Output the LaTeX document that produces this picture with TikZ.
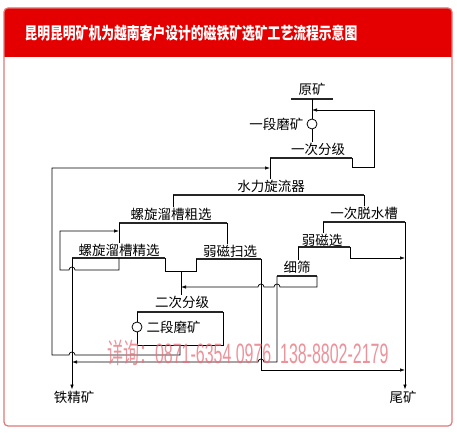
\documentclass[tikz,border=0pt]{standalone}
\usepackage{fontspec}
\usepackage{xcolor}
\usepackage{graphicx}
\usetikzlibrary{arrows.meta}

\setmainfont{Liberation Sans}
\newfontfamily\cjk{Noto Sans CJK SC}

\definecolor{titlered}{RGB}{228,0,0}
\definecolor{framepink}{RGB}{225,120,120}
\definecolor{wmark}{RGB}{230,110,120}

\tikzset{
    lbl/.style={font=\cjk\fontsize{13.5}{14}\selectfont, inner sep=1pt},
    bar/.style={line width=2pt, draw=black!85},
    flow/.style={line width=0.7pt},
    tip/.style={-{Latex[length=5pt,width=3.5pt]}},
    mill/.style={draw, circle, line width=0.8pt, minimum size=10pt, inner sep=0pt}
}

\begin{document}
\begin{tikzpicture}[x=1pt, y=-1pt]

    \useasboundingbox (0,0) rectangle (457,435);

    % Frame and title bar
    \fill[titlered, rounded corners=4pt] (4,8) rectangle (452,57);
    \fill[titlered] (4,40) rectangle (452,57);
    \draw[framepink, line width=1.2pt, rounded corners=4pt] (4,8) rectangle (452,426);
    \node[anchor=west, text=white, font=\cjk\bfseries\fontsize{12.8}{13}\selectfont] (title) at (21,33)
        {\scalebox{1}[1.3]{昆明昆明矿机为越南客户设计的磁铁矿选矿工艺流程示意图}};

    % Raw ore and first grinding
    \node[lbl] (ore) at (312,89) {原矿};
    \coordinate (feedL) at (291,99);
    \coordinate (feedR) at (333,99);
    \draw[bar] (feedL) -- (feedR);
    \node[mill] (mill1) at (312,124) {};
    \node[lbl, anchor=east] (mill1txt) at ([xshift=-2pt]mill1.west) {一段磨矿};
    \draw[flow] (312,99) -- (mill1);
    \node[lbl] (cls1) at (318,149) {一次分级};
    \draw[flow] (mill1) -- (mill1 |- cls1.north);

    % First classification with sand return
    \coordinate (cls1L) at (270,158);
    \coordinate (cls1R) at (352,158);
    \coordinate (cls1in) at (270,168);
    \draw[bar] (cls1L) -- (cls1R);
    \draw[flow, tip] (cls1R) -- (352,167) -- (374,167) -- (374,110) -- (312,110);
    \node[lbl] (cyc) at (271,186) {水力旋流器};
    \draw[flow] (cls1L) -- (cls1L |- cyc.north);

    % Hydrocyclone
    \coordinate (cycL) at (173,195);
    \coordinate (cycR) at (364,195);
    \draw[bar] (cycL) -- (cycR);
    \node[lbl] (rough) at (171,214) {螺旋溜槽粗选};
    \node[lbl] (dew) at (364,213) {一次脱水槽};
    \draw[flow] (cycL) -- (cycL |- rough.north);
    \draw[flow] (cycR) -- (cycR |- dew.north);

    % Spiral chute roughing
    \coordinate (roughL) at (119,223);
    \coordinate (roughR) at (227,223);
    \draw[bar] (roughL) -- (roughR);
    \node[lbl] (clean) at (119,250) {螺旋溜槽精选};
    \node[lbl] (scav) at (230,251) {弱磁扫选};
    \draw[flow] (roughL) -- (roughL |- clean.north);
    \draw[flow] (roughR) -- (roughR |- scav.north);

    % Dewatering tank and magnetic separation
    \coordinate (dewL) at (323,222);
    \coordinate (dewR) at (405,222);
    \draw[bar] (dewL) -- (dewR);
    \node[lbl] (mag) at (322,240) {弱磁选};
    \node[lbl] (tail) at (403,397) {尾矿};
    \draw[flow] (dewL) -- (dewL |- mag.north);
    \draw[flow, tip] (dewR) -- (dewR |- tail.north);

    \coordinate (magL) at (298,247);
    \coordinate (magR) at (350,247);
    \draw[bar] (magL) -- (magR);
    \node[lbl] (screen) at (297,267) {细筛};
    \draw[flow] (magL) -- (magL |- screen.north);
    \draw[flow, tip] (magR) -- (350,258) -- (405,258);

    % Spiral chute cleaning
    \coordinate (cleanL) at (72,258);
    \coordinate (cleanR) at (165,258);
    \draw[bar] (cleanL) -- (cleanR);
    \node[lbl] (conc) at (74,397) {铁精矿};
    \draw[flow, tip] (cleanL) -- (cleanL |- conc.north);
    \draw[flow, tip] (119,258) -- (119,270) -- (75,270) arc[start angle=0, end angle=180, radius=3pt]
        -- (60,270) -- (60,231) -- (119,231);

    % Magnetic scavenging
    \coordinate (scavL) at (196,259);
    \coordinate (scavR) at (261,259);
    \coordinate (cls2in) at (181,271);
    \draw[bar] (scavL) -- (scavR);
    \draw[flow] (cleanR) -- (165,271) -- (196,271) -- (scavL);
    \node[lbl] (cls2) at (182,302) {二次分级};
    \draw[flow] (cls2in) -- (cls2in |- cls2.north);
    \draw[flow, tip] (scavR) -- (261,370) -- (405,370);

    % Fine screen
    \coordinate (screenL) at (277,276);
    \coordinate (screenR) at (317,276);
    \draw[bar] (screenL) -- (screenR);
    \draw[flow, tip] (screenR) -- (317,287) -- (280,287) arc[start angle=0, end angle=180, radius=3pt]
        -- (264,287) arc[start angle=0, end angle=180, radius=3pt] -- (181,287);
    \draw[flow, tip] (screenL) -- (277,362) -- (264,362) arc[start angle=0, end angle=180, radius=3pt]
        -- (72,362);

    % Second classification and grinding
    \coordinate (cls2L) at (137,312);
    \coordinate (cls2R) at (223,312);
    \draw[bar] (cls2L) -- (cls2R);
    \node[mill] (mill2) at (137,327) {};
    \node[lbl, anchor=west] (mill2txt) at ([xshift=3pt]mill2.east) {二段磨矿};
    \draw[flow] (mill2) -- (cls2L);
    \draw[flow] (mill2) -- (137,345) -- (223,345) -- (cls2R);
    \draw[flow, tip] (180,345) -- (180,355) -- (75,355) arc[start angle=0, end angle=180, radius=3pt]
        -- (52,355) -- (52,168) -- (cls1in);

    % Watermark
    \node[anchor=west, text=wmark, opacity=0.75, font=\fontsize{28}{28}\selectfont, inner sep=0pt] (wm) at (107,353)
        {\scalebox{0.57}[1]{{\cjk 详询：}0871-6354 0976\ \ 138-8802-2179}};

\end{tikzpicture}
\end{document}
